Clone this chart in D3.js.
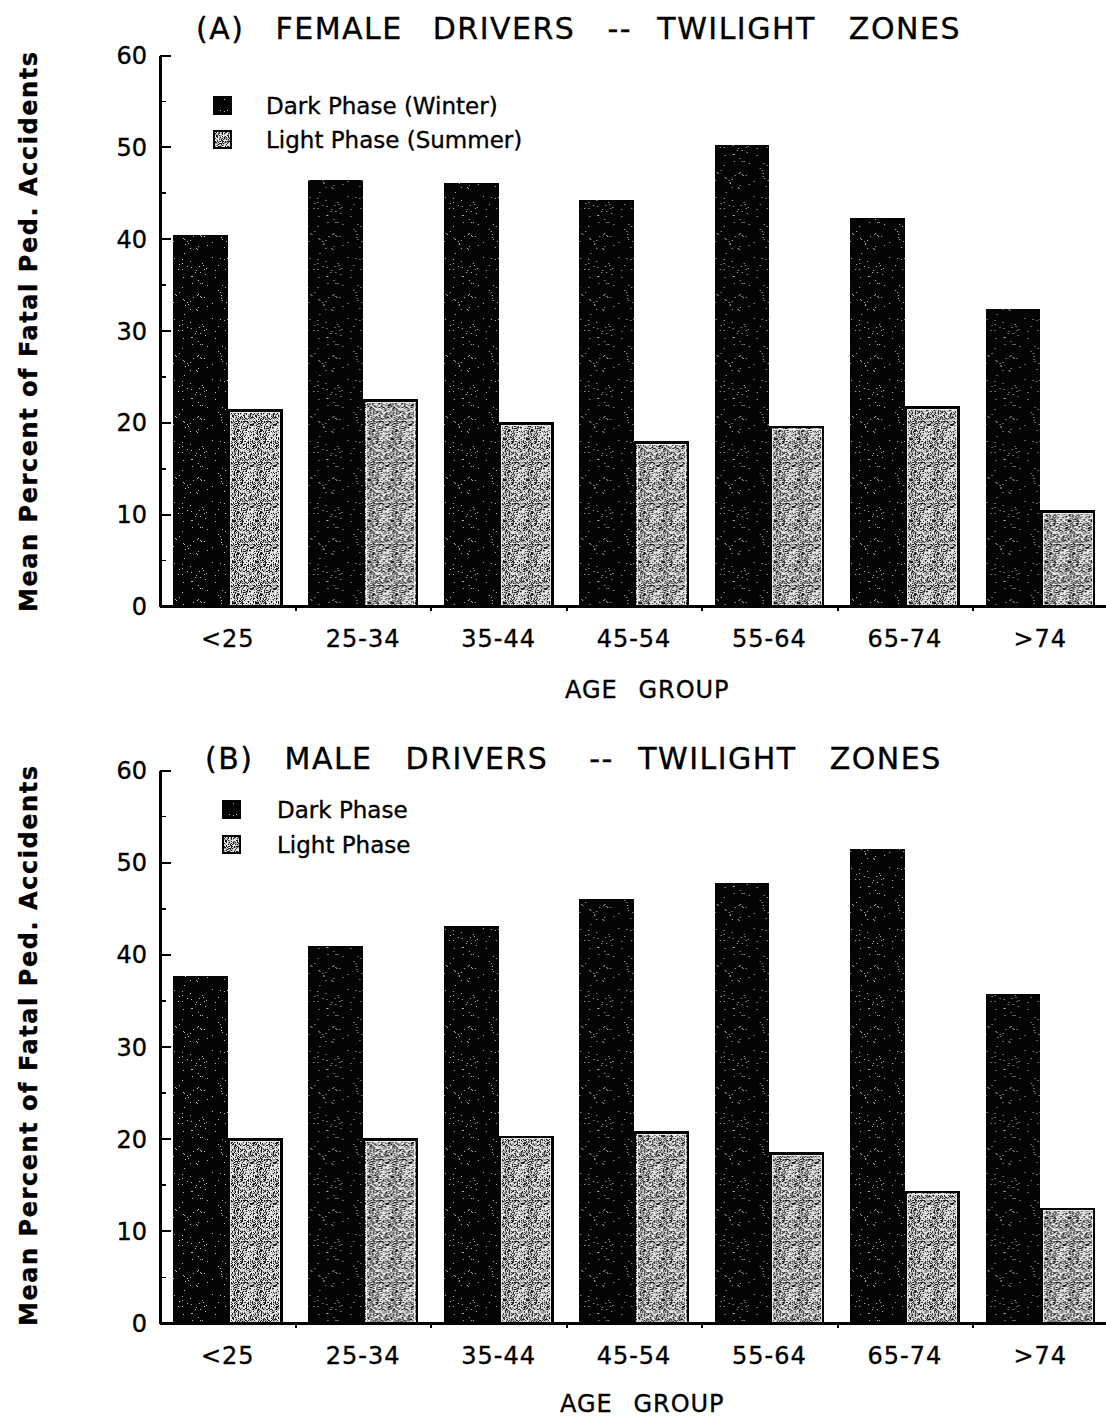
<!DOCTYPE html>
<html>
<head>
<meta charset="utf-8">
<script src="https://cdn.jsdelivr.net/npm/d3@7"></script>
<style>
  html, body { margin: 0; padding: 0; background: #fff; }
  svg { display: block; }
  text { font-family: "DejaVu Sans", Verdana, sans-serif; fill: #000; stroke: #000; stroke-width: 0.35px; }
</style>
</head>
<body>
<svg id="chart" width="1106" height="1420"></svg>
<script>
// Age groups along the x axis
const categories = ["<25", "25-34", "35-44", "45-54", "55-64", "65-74", ">74"];

// Mean percent of fatal pedestrian accidents, female drivers
const femaleDark  = [40.4, 46.4, 46.1, 44.2, 50.2, 42.2, 32.3];
const femaleLight = [21.4, 22.5, 20.0, 17.9, 19.6, 21.7, 10.4];

// Mean percent of fatal pedestrian accidents, male drivers
const maleDark  = [37.7, 40.9, 43.1, 46.0, 47.7, 51.4, 35.7];
const maleLight = [20.0, 20.0, 20.3, 20.8, 18.5, 14.3, 12.5];

// Axis ticks
const yTicks = [0, 10, 20, 30, 40, 50, 60];
const yMinorTicks = [5, 15, 25, 35, 45, 55];
const seriesKeys = ["dark", "light"];

const femaleTitle = ["(A)", "FEMALE", "DRIVERS", "--", "TWILIGHT", "ZONES"];
const maleTitle = ["(B)", "MALE", "DRIVERS", "--", "TWILIGHT", "ZONES"];
const femaleLegend = ["Dark Phase (Winter)", "Light Phase (Summer)"];
const maleLegend = ["Dark Phase", "Light Phase"];

const svg = d3.select("#chart");
const defs = svg.append("defs");

// Small integer hash used to scatter the print-style stipple in the fills
function grain(i, salt) {
  let h = (i * 374761393 + salt * 668265263) >>> 0;
  h = Math.imul(h ^ (h >>> 13), 1274126177) >>> 0;
  return ((h ^ (h >>> 16)) >>> 0) / 4294967296;
}

// Dark fill: solid black with sparse pale speckles
const DW = 53, DH = 61;
const darkPat = defs.append("pattern")
  .attr("id", "darkTex").attr("patternUnits", "userSpaceOnUse")
  .attr("width", DW).attr("height", DH);
darkPat.append("rect").attr("width", DW).attr("height", DH).attr("fill", "#040404");
for (let i = 0; i < DW * DH; i++) {
  if (grain(i, 3) < 0.02) {
    darkPat.append("rect").attr("x", i % DW).attr("y", Math.floor(i / DW))
      .attr("width", 1).attr("height", 1).attr("fill", "#bdbdbd");
  }
}

// Light fill: dense grey stipple with faint vertical streaks
const LW = 23, LH = 41;
const lightPat = defs.append("pattern")
  .attr("id", "lightTex").attr("patternUnits", "userSpaceOnUse")
  .attr("width", LW).attr("height", LH);
lightPat.append("rect").attr("width", LW).attr("height", LH).attr("fill", "#e8e8e8");
for (let i = 0; i < LW * LH; i++) {
  const r = grain(i, 11);
  const col = i % LW;
  const streak = (col % 4 === 1) ? 0.1 : 0;
  const row = Math.floor(i / LW);
  if (r < 0.24 + streak) {
    lightPat.append("rect").attr("x", col).attr("y", row)
      .attr("width", 1).attr("height", 1).attr("fill", "#1a1a1a");
  } else if (r < 0.46 + streak) {
    lightPat.append("rect").attr("x", col).attr("y", row)
      .attr("width", 1).attr("height", 1).attr("fill", "#9a9a9a");
  }
}

function drawPanel(opts) {
  const g = svg.append("g").attr("shape-rendering", "crispEdges");
  const x = d3.scaleBand().domain(categories).range([160, 1108]).paddingInner(0).paddingOuter(0);
  const xs = d3.scaleBand().domain(seriesKeys).range([0, x.bandwidth()]).paddingInner(0).paddingOuter(0.236);
  const y = d3.scaleLinear().domain([0, 60]).range([opts.base, opts.top]);

  const rows = categories.map((c, i) => ({ cat: c, dark: opts.dark[i], light: opts.light[i] }));

  // bars
  const groups = g.selectAll("g.grp").data(rows).join("g").attr("class", "grp")
    .attr("transform", d => `translate(${x(d.cat)},0)`);

  groups.append("rect")
    .attr("x", xs("dark")).attr("width", xs.bandwidth())
    .attr("y", d => y(d.dark)).attr("height", d => y(0) - y(d.dark))
    .attr("fill", "url(#darkTex)");

  groups.append("rect")
    .attr("x", xs("light") + 1).attr("width", xs.bandwidth() - 2)
    .attr("y", d => y(d.light) + 1).attr("height", d => y(0) - y(d.light) - 1)
    .attr("fill", "url(#lightTex)")
    .attr("stroke", "#000").attr("stroke-width", 2.5);

  groups.append("rect")
    .attr("x", xs("light") + 3).attr("width", xs.bandwidth() - 6)
    .attr("y", d => y(d.light) + 3).attr("height", d => Math.max(0, y(0) - y(d.light) - 4))
    .attr("fill", "none").attr("stroke", "#fff").attr("stroke-width", 0.8);

  // y axis, ticks pointing inward
  const yAxis = g.append("g").attr("transform", "translate(160,0)")
    .call(d3.axisLeft(y).tickValues(yTicks).tickSizeInner(-11).tickSizeOuter(0).tickPadding(13));
  yAxis.attr("font-family", null).attr("font-size", null);
  yAxis.select(".domain").attr("stroke-width", 2.2);
  yAxis.selectAll(".tick line").attr("stroke-width", 2);
  yAxis.selectAll(".tick text").attr("font-size", 24).attr("dy", "0.36em");

  const yMinor = g.append("g").attr("transform", "translate(160,0)")
    .call(d3.axisLeft(y).tickValues(yMinorTicks).tickSize(-6).tickFormat(""));
  yMinor.select(".domain").remove();
  yMinor.selectAll(".tick line").attr("stroke-width", 1.6);

  // x axis: baseline with short ticks at the group boundaries
  const xEdge = d3.scaleLinear().domain([0, categories.length]).range(x.range());
  const xAxis = g.append("g").attr("transform", `translate(0,${opts.base})`)
    .call(d3.axisBottom(xEdge).tickValues(d3.range(1, categories.length)).tickSize(5).tickSizeOuter(0).tickFormat(""));
  xAxis.select(".domain").attr("stroke-width", 2.2);
  xAxis.selectAll(".tick line").attr("stroke-width", 2);

  const xLab = g.append("g").attr("transform", `translate(0,${opts.base})`)
    .call(d3.axisBottom(x).tickSize(0));
  xLab.attr("font-family", null).attr("font-size", null);
  xLab.select(".domain").remove();
  xLab.selectAll(".tick text").attr("y", 41).attr("dy", null)
    .attr("font-size", 24).attr("letter-spacing", 1);

  // axis titles
  g.append("text")
    .attr("x", opts.ageX).attr("y", opts.base + opts.ageDy)
    .attr("font-size", 24).attr("letter-spacing", 1).attr("word-spacing", 12)
    .text("AGE GROUP");

  g.append("text")
    .attr("transform", `translate(37,${opts.labelCy}) rotate(-90)`)
    .attr("text-anchor", "middle")
    .attr("font-family", "'DejaVu Sans Condensed', 'DejaVu Sans', sans-serif")
    .attr("font-weight", "bold").attr("font-size", 24)
    .attr("textLength", 560).attr("lengthAdjust", "spacing")
    .text("Mean Percent of Fatal Ped. Accidents");

  // panel title, one tspan per word with explicit gaps
  const title = g.append("text")
    .attr("x", opts.titleX).attr("y", opts.titleY)
    .attr("font-size", 30).attr("letter-spacing", 1.5);
  opts.title.forEach((w, i) => {
    title.append("tspan").attr("dx", i === 0 ? 0 : opts.titleGaps[i - 1]).text(w);
  });

  // legend
  const leg = g.append("g").attr("transform", `translate(${opts.legX},${opts.legY})`);
  seriesKeys.forEach((k, i) => {
    const row = leg.append("g").attr("transform", `translate(0,${i * opts.legStep})`);
    if (k === "dark") {
      row.append("rect").attr("width", 19).attr("height", 19).attr("fill", "url(#darkTex)");
    } else {
      row.append("rect").attr("x", 1).attr("y", 1).attr("width", 17).attr("height", 17)
        .attr("fill", "url(#lightTex)").attr("stroke", "#000").attr("stroke-width", 2);
    }
    row.append("text").attr("x", opts.legTextDx).attr("y", 18)
      .attr("font-size", 23).text(opts.legend[i]);
  });
}

drawPanel({
  top: 55, base: 606,
  dark: femaleDark, light: femaleLight,
  title: femaleTitle, titleGaps: [31, 30, 32, 28, 33],
  titleX: 196, titleY: 39,
  legend: femaleLegend, legX: 213, legY: 96, legStep: 34, legTextDx: 53,
  ageX: 565, ageDy: 92, labelCy: 332
});

drawPanel({
  top: 770, base: 1323,
  dark: maleDark, light: maleLight,
  title: maleTitle, titleGaps: [31, 33, 41, 27, 33],
  titleX: 205, titleY: 769,
  legend: maleLegend, legX: 222, legY: 800, legStep: 35, legTextDx: 55,
  ageX: 560, ageDy: 89, labelCy: 1046
});
</script>
</body>
</html>
